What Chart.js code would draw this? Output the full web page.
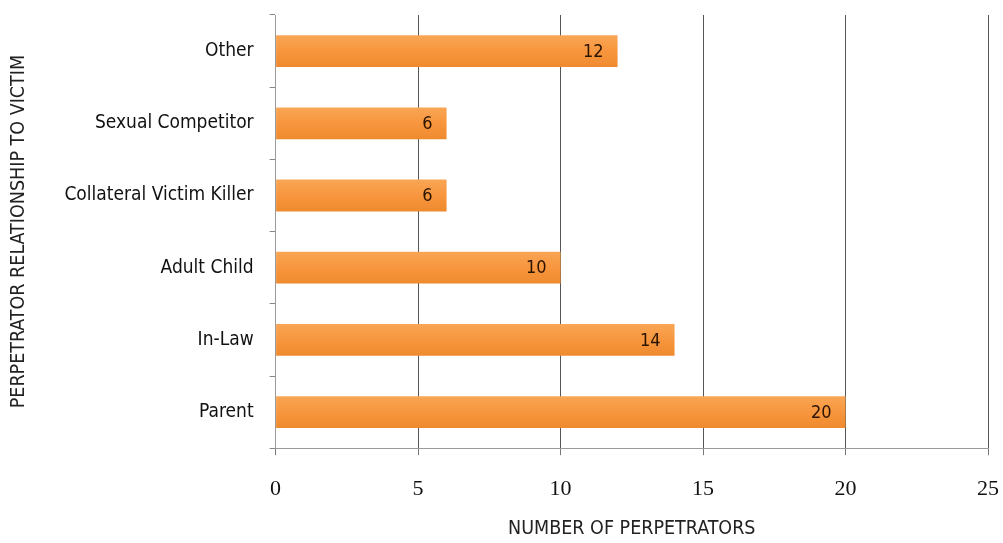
<!DOCTYPE html>
<html>
<head>
<meta charset="utf-8">
<script src="https://cdn.jsdelivr.net/npm/chart.js@4/dist/chart.umd.min.js"></script>
<style>
  html, body { margin: 0; padding: 0; background: #fff; }
  #wrap { width: 1003px; height: 543px; }
</style>
</head>
<body>
<div id="wrap"><canvas id="chart"></canvas></div>
<script>
const categories = ['Other', 'Sexual Competitor', 'Collateral Victim Killer', 'Adult Child', 'In-Law', 'Parent']
const perpetrators = [12, 6, 6, 10, 14, 20]
const xTicks = [0, 5, 10, 15, 20, 25]

const narrow = "'Liberation Sans Narrow', 'DejaVu Sans Condensed', sans-serif"

// value text drawn inside the end of each bar
const barLabels = {
  id: 'barLabels',
  afterDatasetsDraw(chart) {
    const ctx = chart.ctx
    const meta = chart.getDatasetMeta(0)
    ctx.save()
    ctx.font = `18px ${narrow}`
    ctx.fillStyle = '#2b1300'
    ctx.textAlign = 'right'
    ctx.textBaseline = 'middle'
    meta.data.forEach((bar, i) => {
      ctx.fillText(perpetrators[i], bar.x - 14, bar.y + 1)
    })
    ctx.restore()
  }
}

new Chart('chart', {
  type: 'bar',
  data: {
    labels: categories,
    datasets: [{
      data: perpetrators,
      backgroundColor: context => {
        const { chart, dataIndex } = context
        const yScale = chart.scales.y
        if (!yScale || !chart.chartArea) return '#f7963e'
        const cy = yScale.getPixelForValue(dataIndex)
        if (!Number.isFinite(cy)) return '#f7963e'
        const h = 16
        const g = chart.ctx.createLinearGradient(0, cy - h, 0, cy + h)
        g.addColorStop(0, '#f9a655')
        g.addColorStop(0.5, '#f7963e')
        g.addColorStop(1, '#ef8a2e')
        return g
      },
      borderWidth: 0,
      barPercentage: 0.44,
      categoryPercentage: 1
    }]
  },
  options: {
    indexAxis: 'y',
    responsive: true,
    maintainAspectRatio: false,
    animation: false,
    layout: { padding: { top: 15, right: 15, left: 7, bottom: 2 } },
    plugins: {
      legend: { display: false },
      tooltip: { enabled: false }
    },
    scales: {
      x: {
        min: 0,
        max: 25,
        afterBuildTicks: axis => { axis.ticks = xTicks.map(v => ({ value: v })) },
        afterFit: axis => {
          axis.paddingLeft = 0
          axis.paddingRight = 0
          axis.height -= 21 // tick padding gets counted twice in the height
        },
        grid: {
          color: ctx => ctx.tick && ctx.tick.value === 0 ? '#9a9a9a' : '#555',
          lineWidth: 1,
          tickLength: 7,
          tickColor: '#777'
        },
        border: { color: '#9a9a9a' },
        ticks: {
          color: '#111',
          padding: 21,
          font: { family: "'Liberation Serif', 'DejaVu Serif', serif", size: 22 }
        },
        title: {
          display: true,
          text: 'NUMBER OF PERPETRATORS',
          color: '#222',
          padding: { top: 15, bottom: 0 },
          font: { family: narrow, size: 19.5 }
        }
      },
      y: {
        afterFit: axis => { axis.paddingTop = 0; axis.paddingBottom = 0 },
        grid: {
          drawOnChartArea: false,
          offset: true,
          tickLength: 6,
          tickColor: '#888'
        },
        border: { color: '#9a9a9a' },
        ticks: {
          color: '#111',
          padding: 16,
          font: { family: narrow, size: 19 }
        },
        title: {
          display: true,
          text: 'PERPETRATOR RELATIONSHIP TO VICTIM',
          color: '#222',
          padding: { top: 0, bottom: 18 },
          font: { family: narrow, size: 19.5 }
        }
      }
    }
  },
  plugins: [barLabels]
})
</script>
</body>
</html>
